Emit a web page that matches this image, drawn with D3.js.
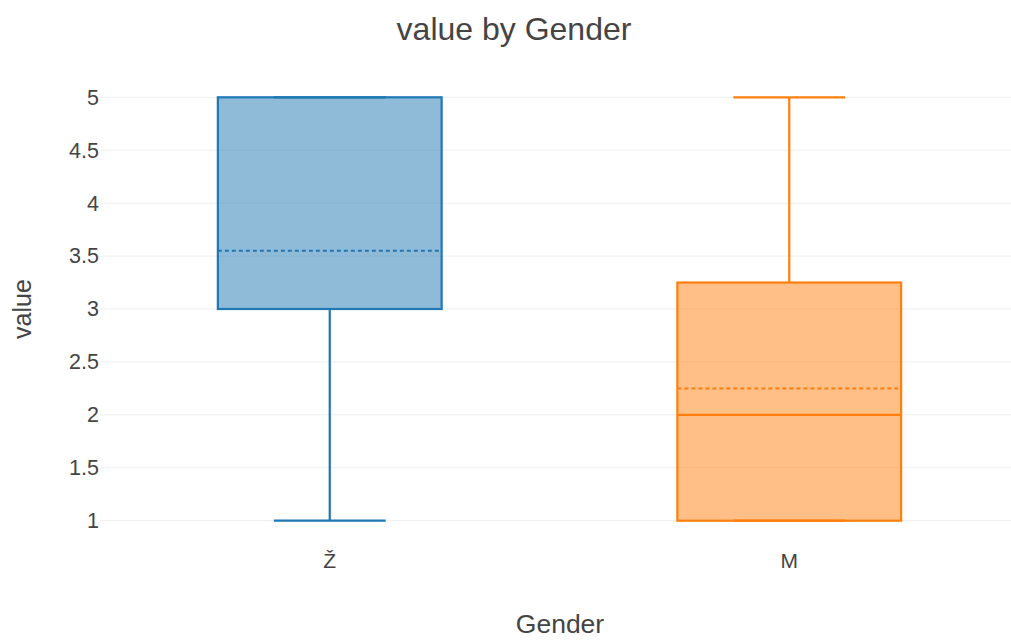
<!DOCTYPE html>
<html>
<head>
<meta charset="utf-8">
<script src="https://cdn.jsdelivr.net/npm/d3@7"></script>
<style>
  html, body { margin: 0; padding: 0; background: #fff; }
  svg { display: block; font-family: "Liberation Sans", Arial, sans-serif; }
</style>
</head>
<body>
<svg id="chart" width="1011" height="641"></svg>
<script>
const categories = ["Ž", "M"];
const colors = ["#1f77b4", "#ff7f0e"];
const minVals = [1, 1];
const q1Vals = [3, 1];
const medianVals = [3, 2];
const q3Vals = [5, 3.25];
const maxVals = [5, 5];
const meanVals = [3.55, 2.25];
const yTicks = [1, 1.5, 2, 2.5, 3, 3.5, 4, 4.5, 5];

const svg = d3.select("#chart");
const plot = { left: 100, right: 1019, top: 74, bottom: 544 };
const FONT = "'Liberation Sans', Arial, sans-serif";

const x = d3.scaleBand().domain(categories).range([plot.left, plot.right]).padding(0);
const y = d3.scaleLinear().domain([0.78, 5.22]).range([plot.bottom, plot.top]);

// gridlines
svg.append("g").selectAll("line").data(yTicks).join("line")
  .attr("x1", plot.left).attr("x2", plot.right)
  .attr("y1", d => y(d)).attr("y2", d => y(d))
  .attr("stroke", "#eeeeee").attr("stroke-width", 1);

// y axis labels
const yAxis = d3.axisLeft(y).tickValues(yTicks).tickSize(0).tickPadding(1)
  .tickFormat(d => String(d));
const gy = svg.append("g").attr("transform", `translate(${plot.left},0)`).call(yAxis);
gy.select(".domain").remove();
gy.selectAll("text").attr("font-size", 21.5).attr("fill", "#444")
  .attr("font-family", FONT);

// x axis labels
const xAxis = d3.axisBottom(x).tickSize(0).tickPadding(0);
const gx = svg.append("g").attr("transform", `translate(0,${y(1)})`).call(xAxis);
gx.select(".domain").remove();
gx.selectAll("text").attr("font-size", 21).attr("fill", "#444")
  .attr("font-family", FONT).attr("dy", null).attr("y", 47);

// boxes
const boxW = x.bandwidth() * 0.487;
const capW = boxW / 2;
categories.forEach((c, i) => {
  const cx = x(c) + x.bandwidth() / 2;
  const col = colors[i];
  const g = svg.append("g");
  g.append("line").attr("x1", cx).attr("x2", cx)
    .attr("y1", y(maxVals[i])).attr("y2", y(q3Vals[i]))
    .attr("stroke", col).attr("stroke-width", 2.2);
  g.append("line").attr("x1", cx).attr("x2", cx)
    .attr("y1", y(q1Vals[i])).attr("y2", y(minVals[i]))
    .attr("stroke", col).attr("stroke-width", 2.2);
  [minVals[i], maxVals[i]].forEach(v => {
    g.append("line").attr("x1", cx - capW / 2).attr("x2", cx + capW / 2)
      .attr("y1", y(v)).attr("y2", y(v))
      .attr("stroke", col).attr("stroke-width", 2.2);
  });
  g.append("rect")
    .attr("x", cx - boxW / 2).attr("width", boxW)
    .attr("y", y(q3Vals[i])).attr("height", y(q1Vals[i]) - y(q3Vals[i]))
    .attr("fill", col).attr("fill-opacity", 0.5)
    .attr("stroke", col).attr("stroke-width", 2.2);
  g.append("line").attr("x1", cx - boxW / 2).attr("x2", cx + boxW / 2)
    .attr("y1", y(medianVals[i])).attr("y2", y(medianVals[i]))
    .attr("stroke", col).attr("stroke-width", 2.2);
  g.append("line").attr("x1", cx - boxW / 2).attr("x2", cx + boxW / 2)
    .attr("y1", y(meanVals[i])).attr("y2", y(meanVals[i]))
    .attr("stroke", col).attr("stroke-width", 2).attr("stroke-dasharray", "4,3");
});

// title
svg.append("text").attr("x", 514).attr("y", 40).attr("text-anchor", "middle")
  .attr("font-size", 32).attr("fill", "#444").attr("font-family", FONT).text("value by Gender");
// axis titles
svg.append("text").attr("x", 560).attr("y", 633).attr("text-anchor", "middle")
  .attr("font-size", 26.5).attr("fill", "#444").attr("font-family", FONT).text("Gender");
svg.append("text").attr("transform", `translate(31,${y(3)}) rotate(-90)`)
  .attr("text-anchor", "middle").attr("font-size", 25).attr("fill", "#444")
  .attr("font-family", FONT).text("value");
</script>
</body>
</html>
